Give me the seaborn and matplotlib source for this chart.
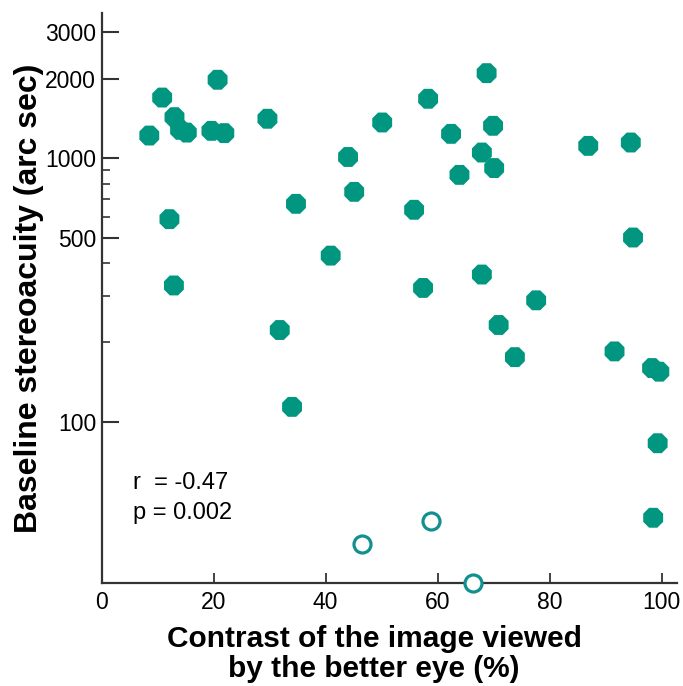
import numpy as np
import pandas as pd
import matplotlib
matplotlib.use('Agg')
import matplotlib.pyplot as plt
import seaborn as sns
from matplotlib.ticker import FixedLocator, NullFormatter

# values
contrast = [8.5, 10.8, 13.0, 14.0, 15.2, 19.6, 20.7, 21.9, 12.1, 12.9,
            29.6, 31.8, 34.0, 34.7, 40.9, 44.0, 45.1, 50.1, 55.8, 58.3,
            57.4, 62.4, 63.9, 67.9, 67.9, 68.75, 69.9, 70.1, 70.9, 73.8,
            77.6, 86.9, 94.5, 94.9, 91.6, 98.3, 99.6, 99.3, 98.5]
stereo = [1218, 1697, 1430, 1280, 1250, 1269, 1982, 1244, 587, 329,
          1410, 223, 114, 671, 427, 1010, 745, 1365, 637, 1679,
          322, 1236, 864, 362, 1050, 2100, 1326, 917, 233, 176,
          289, 1113, 1146, 500, 185, 160, 155, 83, 43.3]

# open symbols
contrast_open = [46.5, 58.9, 66.4]
stereo_open = [34.5, 42.0, 24.5]

y_major = [100, 500, 1000, 2000, 3000]
y_minor = [200, 300, 400, 600, 700, 800, 900]
x_ticks = [0, 20, 40, 60, 80, 100]

fill_color = '#00967f'
open_color = '#12908f'

sns.set_style('ticks')
plt.rcParams['font.family'] = ['Liberation Sans', 'DejaVu Sans']
plt.rcParams['text.color'] = 'black'
plt.rcParams['axes.labelcolor'] = 'black'
plt.rcParams['xtick.labelcolor'] = 'black'
plt.rcParams['ytick.labelcolor'] = 'black'

df = pd.DataFrame({'contrast': contrast, 'stereo': stereo})
df_open = pd.DataFrame({'contrast': contrast_open, 'stereo': stereo_open})

fig = plt.figure(figsize=(6.83, 6.86), dpi=100)
ax = fig.add_axes([101.7 / 683, 1 - 583 / 686, 575 / 683, 570 / 686])

sns.scatterplot(data=df, x='contrast', y='stereo', marker='8', s=240,
                color=fill_color, edgecolor='none', ax=ax, clip_on=False, zorder=3)
sns.scatterplot(data=df_open, x='contrast', y='stereo', marker='o', s=150,
                facecolor='white', edgecolor=open_color, linewidth=2.3,
                ax=ax, clip_on=False, zorder=4)

ax.set_yscale('log')
ax.set_xlim(0, 102.7)
ax.set_ylim(24.5, 3550)

ax.yaxis.set_major_locator(FixedLocator(y_major))
ax.yaxis.set_minor_locator(FixedLocator(y_minor))
ax.set_yticklabels([str(v) for v in y_major])
ax.yaxis.set_minor_formatter(NullFormatter())
ax.set_xticks(x_ticks)

ax.tick_params(axis='y', which='major', direction='in', length=12, width=1.5,
               color='#333333', labelsize=16.5, pad=4)
ax.tick_params(axis='y', which='minor', direction='in', length=6, width=1.2,
               color='#333333')
ax.tick_params(axis='x', direction='in', length=7, width=1.3, color='#333333',
               labelsize=16.5, pad=6)

sns.despine(ax=ax)
for side in ['left', 'bottom']:
    ax.spines[side].set_linewidth(1.6)
    ax.spines[side].set_color('#333333')

ax.set_xlabel('Contrast of the image viewed\nby the better eye (%)',
              fontsize=21.5, fontweight='bold', linespacing=1.12)
ax.xaxis.set_label_coords(0.474, -0.073, transform=ax.transAxes)
ax.xaxis.label.set_va('top')
ax.set_ylabel('Baseline stereoacuity (arc sec)', fontsize=23,
              fontweight='bold', labelpad=0.5)

ax.text(0.054, 0.175, 'r  = -0.47', transform=ax.transAxes, fontsize=17,
        va='center', ha='left')
ax.text(0.054, 0.123, 'p = 0.002', transform=ax.transAxes, fontsize=17,
        va='center', ha='left')

fig.savefig('out.png', dpi=100)
